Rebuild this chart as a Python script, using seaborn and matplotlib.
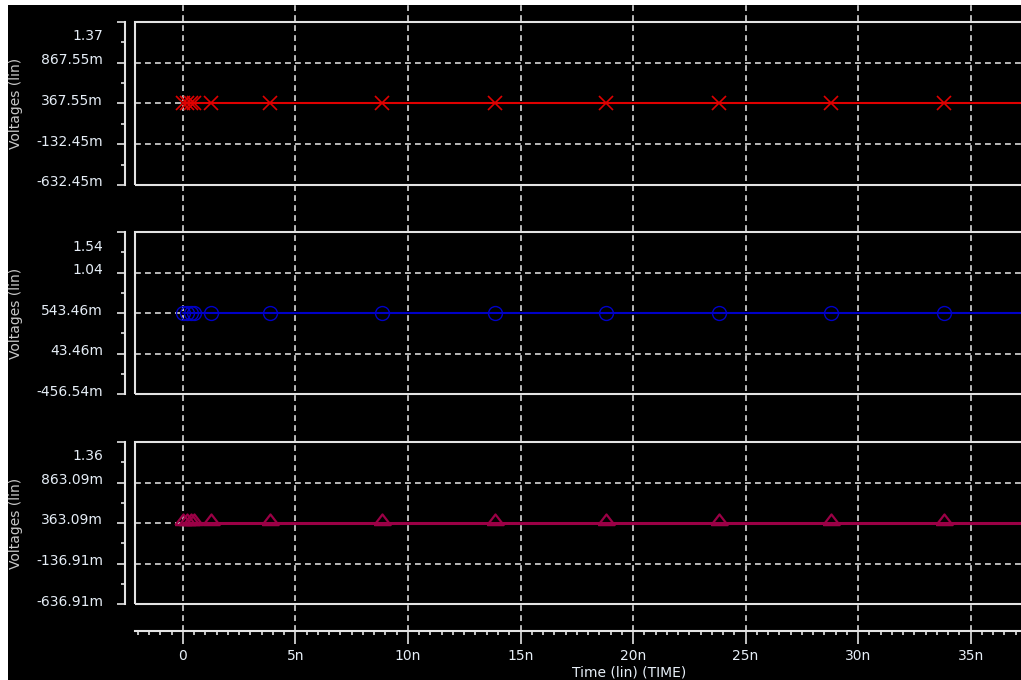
import matplotlib
matplotlib.use("Agg")
import numpy as np
import seaborn as sns
import matplotlib.pyplot as plt
from matplotlib.ticker import MultipleLocator, FixedLocator, FuncFormatter
from matplotlib.patches import Rectangle
from matplotlib.transforms import ScaledTranslation

# ---------------------------------------------------------------------------
# data (time in ns, voltages in V)
# ---------------------------------------------------------------------------
time_ns = [0.0, 0.2, 0.35, 0.5, 1.25, 3.85, 8.85, 13.85, 18.8, 23.8, 28.8, 33.8, 40.0]

v_top = [0.36755, 0.36755, 0.36755, 0.36755, 0.36755, 0.36755, 0.36755,
         0.36755, 0.36755, 0.36755, 0.36755, 0.36755, 0.36755]
v_mid = [0.54346, 0.54346, 0.54346, 0.54346, 0.54346, 0.54346, 0.54346,
         0.54346, 0.54346, 0.54346, 0.54346, 0.54346, 0.54346]
v_bot = [0.36309, 0.36309, 0.36309, 0.36309, 0.36309, 0.36309, 0.36309,
         0.36309, 0.36309, 0.36309, 0.36309, 0.36309, 0.36309]

ticks_top = [-0.63245, -0.13245, 0.36755, 0.86755, 1.36755]
ticks_mid = [-0.45654, 0.04346, 0.54346, 1.04346, 1.54346]
ticks_bot = [-0.63691, -0.13691, 0.36309, 0.86309, 1.36309]

time_lim = [-2.13, 37.24]

# ---------------------------------------------------------------------------
sns.set_style("ticks")
plt.rcParams["font.family"] = ["DejaVu Sans"]

W, H = 1021, 680
FG = "#e4e4e4"
TXT = "#e6eef7"


def rect(l, t, r, b):
    return [l / W, 1 - b / H, (r - l) / W, (b - t) / H]


def volt_label(v):
    if abs(v) < 1:
        return "%.2fm" % (v * 1000)
    return "%.2f" % v


def time_label(v, pos):
    if abs(v) < 1e-9:
        return "0"
    return "%dn" % round(v)


fig = plt.figure(figsize=(W / 100, H / 100), dpi=100, facecolor="white")

# black screen area (thin white window border at left/top)
bg = fig.add_axes(rect(8, 5, W, H))
bg.set_facecolor("black")
bg.set_xticks([])
bg.set_yticks([])
for s in bg.spines.values():
    s.set_visible(False)

# time axis with vertical grid running through all panels
tax = fig.add_axes(rect(135, 5, W, 631))
tax.set_facecolor("none")
tax.set_xlim(time_lim)
tax.set_yticks([])
for s in ["top", "left", "right"]:
    tax.spines[s].set_visible(False)
tax.spines["bottom"].set_color(FG)
tax.spines["bottom"].set_linewidth(1.5)
tax.xaxis.set_major_locator(MultipleLocator(5))
tax.xaxis.set_minor_locator(MultipleLocator(0.5))
tax.xaxis.set_major_formatter(FuncFormatter(time_label))
tax.tick_params(axis="x", which="major", direction="out", length=9, width=1.2,
                color=FG, labelcolor=TXT, labelsize=10, pad=4)
tax.tick_params(axis="x", which="minor", direction="out", length=3, width=1.2, color=FG)
tax.grid(axis="x", which="major", color="#d8d8d8", linewidth=1.2,
         linestyle=(0, (3.5, 2.5)))
tax.set_xlabel("Time (lin) (TIME)", color=TXT, fontsize=10)
tax.xaxis.label.set_va("center")
tax.xaxis.set_label_coords((629 - 135) / (W - 135), (631 - 672) / 626)

panels = [
    (22, 185, ticks_top, v_top, "#e00000", "x", 1.5, 10, 1.2),
    (232, 394, ticks_mid, v_mid, "#0000c8", "o", 1.5, 10, 1.0),
    (442, 604, ticks_bot, v_bot, "#9b0046",
     [(-1, -0.2), (1, -0.2), (0, 1.1), (-1, -0.2)], 2.2, 13, 1.6),
]

for top, bottom, ticks, vals, color, marker, lw, ms, mew in panels:
    ax = fig.add_axes(rect(135, top, W, bottom))
    ax.set_facecolor("none")
    sns.lineplot(x=time_ns, y=vals, ax=ax, color=color, linewidth=lw,
                 marker=marker, markersize=ms, markerfacecolor="none",
                 markeredgecolor=color, markeredgewidth=mew,
                 markevery=list(range(len(time_ns) - 1)))
    ax.set_xlim(time_lim)
    ax.set_ylim(ticks[0], ticks[-1])
    ax.tick_params(axis="x", which="both", bottom=False, labelbottom=False)

    for s in ["top", "bottom", "right"]:
        ax.spines[s].set_visible(False)
    ax.spines["left"].set_position(("outward", 7))
    ax.spines["left"].set_color(FG)
    ax.spines["left"].set_linewidth(1.5)
    ax.add_patch(Rectangle((0, 0), 1.2, 1, transform=ax.transAxes, fill=False,
                           edgecolor=FG, linewidth=1.5, clip_on=False, zorder=5))

    ax.yaxis.set_major_locator(FixedLocator(ticks))
    ax.set_yticklabels([volt_label(t) for t in ticks])
    ax.yaxis.set_minor_locator(FixedLocator(list(np.array(ticks[:-1]) + 0.25)))
    ax.tick_params(axis="y", which="major", direction="out", length=6, width=1.2,
                   color=FG, labelcolor=TXT, labelsize=10, pad=10)
    ax.tick_params(axis="y", which="minor", direction="out", length=3, width=1.2, color=FG)
    ax.grid(axis="y", which="major", color="#d8d8d8", linewidth=1.2,
            linestyle=(0, (3.5, 2.5)))
    labels = ax.get_yticklabels()
    for i, lab in enumerate(labels):
        dy = -13 if i == len(labels) - 1 else 4
        lab.set_transform(lab.get_transform() + ScaledTranslation(0, dy / 100, fig.dpi_scale_trans))

    ax.set_ylabel("Voltages (lin)", color="#c8c8c8", fontsize=10)
    ax.yaxis.label.set_va("center")
    ax.yaxis.set_label_coords((16 - 135) / (W - 135), 0.5)

fig.savefig("out.png", dpi=100, facecolor=fig.get_facecolor())
plt.close(fig)
